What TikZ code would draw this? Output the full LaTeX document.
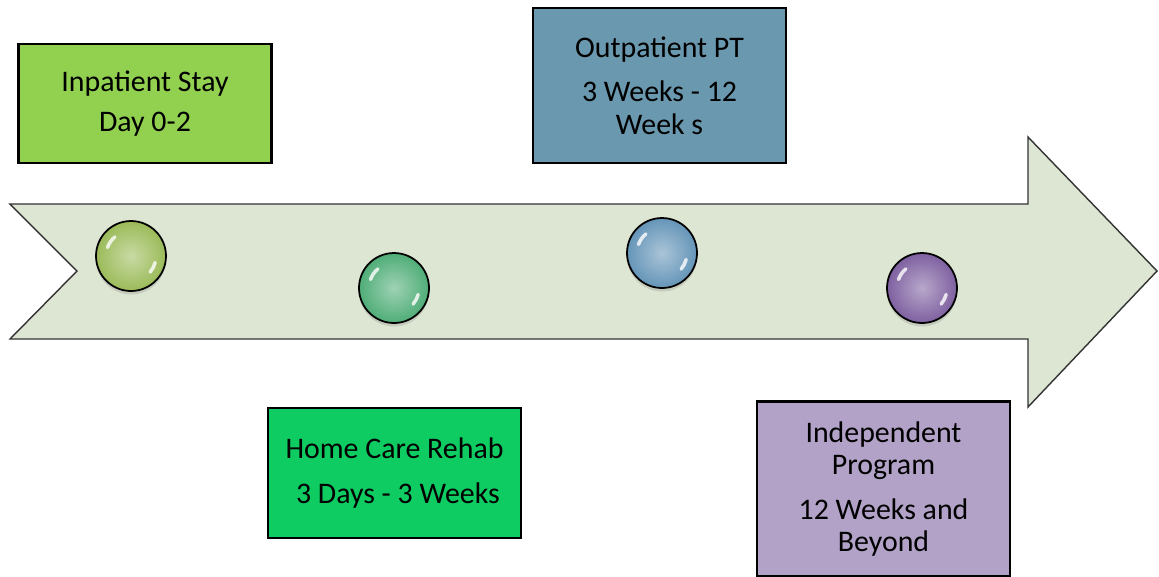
\documentclass[tikz,border=0pt]{standalone}
\usepackage{fontspec}
\setmainfont{Carlito}
\usepackage{tikz}
\usetikzlibrary{shadows}
\definecolor{arrowfill}{HTML}{DDE6D3}
\definecolor{inpatient}{HTML}{92D050}
\definecolor{homecare}{HTML}{0FCC62}
\definecolor{outpatient}{HTML}{6A98AE}
\definecolor{independent}{HTML}{B2A2C7}
\definecolor{dotA}{HTML}{9BBB59}
\definecolor{dotB}{HTML}{4FAD77}
\definecolor{dotC}{HTML}{6595B8}
\definecolor{dotD}{HTML}{7E60A0}
\tikzstyle{phase} = [rectangle, draw=black, line width=1.6pt, align=center,
                     minimum width=5.06cm, font=\fontsize{17pt}{18.5pt}\selectfont]
\tikzstyle{dot} = [circle, draw=black, line width=1pt, minimum size=1.4cm, inner sep=0,
                   drop shadow={opacity=0.25, shadow xshift=0pt, shadow yshift=-2pt}]

\begin{document}
\begin{tikzpicture}[x=0.02cm, y=-0.02cm]
	\useasboundingbox (0, 0) rectangle (1159, 576);

	% big arrow
	\draw[fill=arrowfill, draw=black!80, line width=0.8pt]
		(10, 204) -- (1028, 204) -- (1028, 137) -- (1157, 271) -- (1028, 407)
		-- (1028, 339) -- (10, 339) -- (77, 271) -- cycle;

	% spheres
	\foreach \n/\x/\y/\c in {A/131/256/dotA, B/394/288/dotB, C/662/253/dotC, D/922/288/dotD} {
		\node (Dot\n) [dot, inner color=\c!55!white, outer color=\c] at (\x, \y) {};
		\draw[white, line width=2pt, line cap=round, opacity=0.8]
			(Dot\n.center) ++(160:0.5cm) arc[start angle=160, end angle=130, radius=0.5cm];
		\draw[white, line width=2pt, line cap=round, opacity=0.8]
			(Dot\n.center) ++(-15:0.5cm) arc[start angle=-15, end angle=-40, radius=0.5cm];
	}

	% phases
	\node (Inpatient) [phase, fill=inpatient, minimum height=2.38cm] at (145, 103.5)
		{Inpatient Stay\\[4.5pt]Day 0-2};
	\node (HomeCare) [phase, fill=homecare, minimum height=2.6cm] at (394.5, 473)
		{Home Care Rehab\\[7pt]\ 3 Days - 3 Weeks};
	\node (Outpatient) [phase, fill=outpatient, minimum height=3.1cm] at (659.5, 85.5)
		{Outpatient PT\\[7pt]3 Weeks - 12\\Week s};
	\node (Independent) [phase, fill=independent, minimum height=3.5cm] at (883.5, 489)
		{Independent\\Program\\[7pt]12 Weeks and\\Beyond};
\end{tikzpicture}
\end{document}
